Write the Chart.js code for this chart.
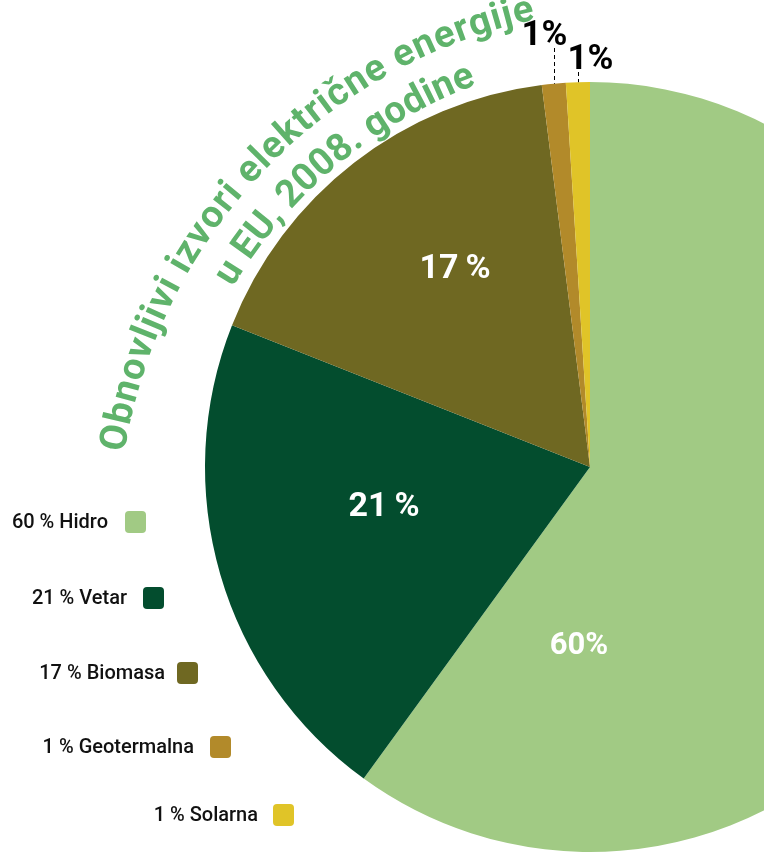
<!DOCTYPE html>
<html>
<head>
<meta charset="utf-8">
<script src="https://cdn.jsdelivr.net/npm/chart.js@4/dist/chart.umd.min.js"></script>
<style>
  html, body { margin: 0; padding: 0; background: #ffffff; overflow: hidden; }
  #wrap { position: relative; width: 764px; height: 854px; overflow: hidden; }
  #wrap canvas { position: absolute; left: 0; top: 0; }
</style>
</head>
<body>
<div id="wrap"><canvas id="pie" width="1180" height="934"></canvas></div>
<script>
// Renewable electricity sources in the EU, 2008 (share in %)
const sources = ['Hidro', 'Vetar', 'Biomasa', 'Geotermalna', 'Solarna'];
const shares = [60, 21, 17, 1, 1];
const sliceColors = ['#a1ca84', '#034d2e', '#6f6822', '#b28a2a', '#e0c428'];
const titleLines = ['Obnovljivi izvori električne energije', 'u EU, 2008. godine'];

const FONT = 'Roboto, "Open Sans", sans-serif';

// text placed letter by letter along a circle, running clockwise,
// spread evenly so that it fills the arc between startDeg and endDeg
function arcText(ctx, text, cx, cy, r, startDeg, endDeg) {
  const chars = [...text];
  const widths = chars.map(ch => ctx.measureText(ch).width);
  const natural = widths.reduce((s, w) => s + w, 0);
  const span = (endDeg - startDeg) * Math.PI / 180 * r;
  const extra = (span - natural) / (chars.length - 1);
  let a = startDeg * Math.PI / 180;
  chars.forEach((ch, k) => {
    const w = widths[k];
    const am = a + w / 2 / r;
    ctx.save();
    ctx.translate(cx + r * Math.cos(am), cy + r * Math.sin(am));
    ctx.rotate(am + Math.PI / 2);
    ctx.fillText(ch, 0, 0);
    ctx.restore();
    a += (w + extra) / r;
  });
}

const decorations = {
  id: 'decorations',
  afterDraw(chart) {
    const ctx = chart.ctx;
    const arcs = chart.getDatasetMeta(0).data;
    const cx = arcs[0].x, cy = arcs[0].y;

    // percentages inside the large slices
    const inside = [
      { i: 0, dx: -11, dy: 179, size: 31, gap: '' },
      { i: 1, dx: -206, dy: 40, size: 34, gap: '\u2009' },
      { i: 2, dx: -135, dy: -198, size: 34, gap: '\u2009' }
    ];
    ctx.save();
    ctx.fillStyle = '#ffffff';
    ctx.textAlign = 'center';
    ctx.textBaseline = 'middle';
    inside.forEach(o => {
      ctx.font = `bold ${o.size}px ${FONT}`;
      ctx.fillText(shares[o.i] + o.gap + '%', cx + o.dx, cy + o.dy);
    });
    ctx.restore();

    // small slices: labels above the rim with dashed leaders
    const outside = [
      { i: 3, top: 48, dx: -10 },
      { i: 4, top: 72, dx: 12 }
    ];
    ctx.save();
    outside.forEach(o => {
      const arc = arcs[o.i];
      const mid = (arc.startAngle + arc.endAngle) / 2;
      const x = Math.round(arc.x + Math.cos(mid) * arc.outerRadius) + 0.5;
      const y = arc.y + Math.sin(mid) * arc.outerRadius;
      ctx.strokeStyle = '#000000';
      ctx.lineWidth = 1;
      ctx.setLineDash([4, 3]);
      ctx.beginPath();
      ctx.moveTo(x, o.top);
      ctx.lineTo(x, y);
      ctx.stroke();
      ctx.setLineDash([]);
      ctx.fillStyle = '#000000';
      ctx.font = `bold 35px ${FONT}`;
      ctx.textAlign = 'center';
      ctx.textBaseline = 'alphabetic';
      ctx.fillText(shares[o.i] + '%', x + o.dx, o.top - 3);
    });
    ctx.restore();

    // curved title
    ctx.save();
    ctx.fillStyle = '#5fb36b';
    ctx.textAlign = 'center';
    ctx.textBaseline = 'alphabetic';
    ctx.font = `bold 38px ${FONT}`;
    arcText(ctx, titleLines[0], 645, 535, 527, -171, -102);
    arcText(ctx, titleLines[1], 645, 535, 481, -149, -110.5);
    ctx.restore();

    // legend, stepped along the rim of the pie
    const rows = [
      { textRight: 108, box: 125, y: 522 },
      { textRight: 127, box: 143, y: 598 },
      { textRight: 165, box: 177, y: 673 },
      { textRight: 194, box: 210, y: 747 },
      { textRight: 258, box: 273, y: 815 }
    ];
    ctx.save();
    ctx.font = `500 20px ${FONT}`;
    ctx.textAlign = 'right';
    ctx.textBaseline = 'middle';
    rows.forEach((row, i) => {
      ctx.fillStyle = '#111111';
      ctx.fillText(`${shares[i]} % ${sources[i]}`, row.textRight, row.y + 1);
      ctx.fillStyle = sliceColors[i];
      ctx.beginPath();
      ctx.roundRect(row.box, row.y - 11, 21, 22, 4);
      ctx.fill();
    });
    ctx.restore();
  }
};

new Chart(document.getElementById('pie'), {
  type: 'pie',
  data: {
    labels: sources,
    datasets: [{
      data: shares,
      backgroundColor: sliceColors,
      borderWidth: 0,
      hoverOffset: 0
    }]
  },
  options: {
    responsive: false,
    animation: false,
    events: [],
    layout: { padding: { left: 205, right: 205, top: 82, bottom: 82 } },
    plugins: {
      legend: { display: false },
      tooltip: { enabled: false },
      title: { display: false }
    }
  },
  plugins: [decorations]
});
</script>
</body>
</html>
